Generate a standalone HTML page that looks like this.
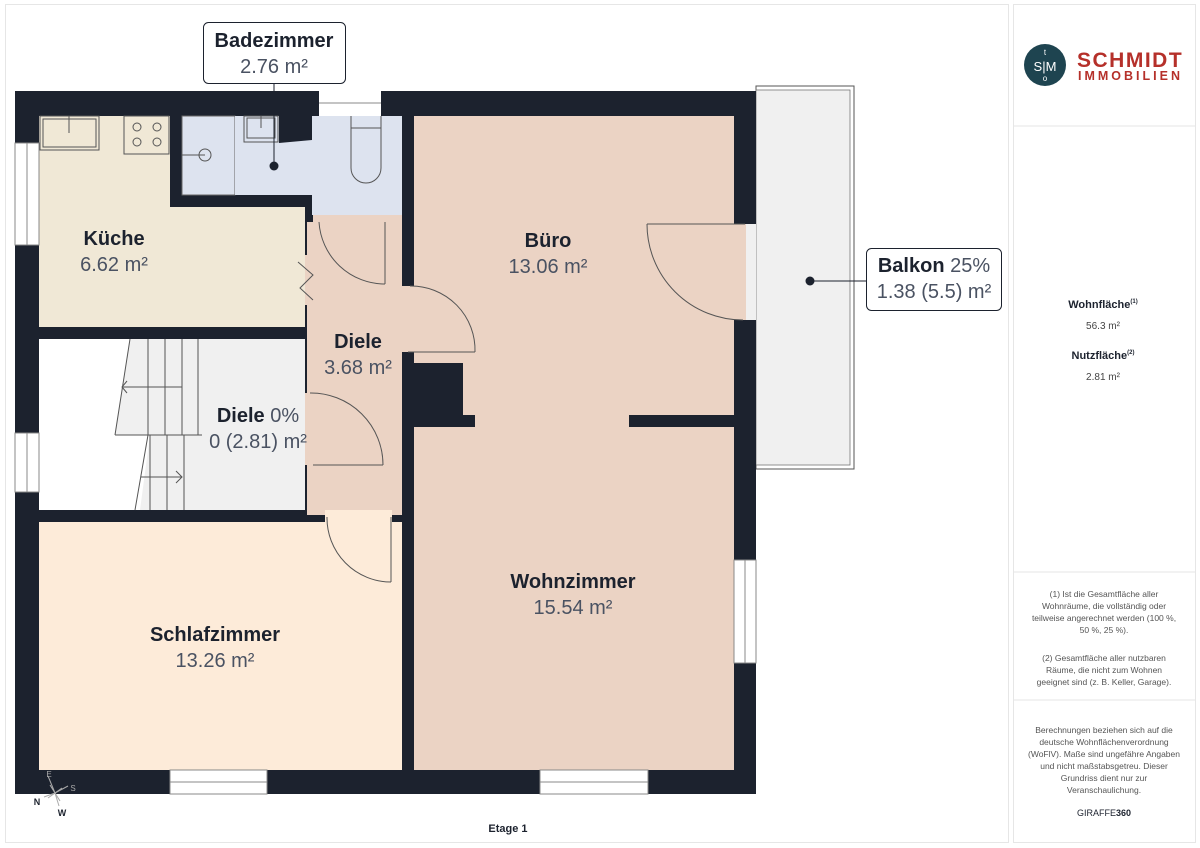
<!DOCTYPE html>
<html><head><meta charset="utf-8"><style>
body{margin:0;width:1200px;height:848px;background:#fff;overflow:hidden;font-family:"Liberation Sans",sans-serif}
svg{position:absolute;left:0;top:0}
</style></head><body>
<svg width="1200" height="848" viewBox="0 0 1200 848" xmlns="http://www.w3.org/2000/svg" font-family="Liberation Sans, sans-serif">
<rect x="5.5" y="4.5" width="1003" height="838" fill="none" stroke="#e6e6e6"/>
<rect x="1013.5" y="4.5" width="182" height="838" fill="none" stroke="#e6e6e6"/>
<line x1="1013" y1="126" x2="1196" y2="126" stroke="#e6e6e6"/>
<line x1="1013" y1="572" x2="1196" y2="572" stroke="#e6e6e6"/>
<line x1="1013" y1="700" x2="1196" y2="700" stroke="#e6e6e6"/>

<rect x="756" y="86" width="98" height="383" fill="#fff" stroke="#555" stroke-width="1"/>
<rect x="756" y="90" width="94" height="375" fill="#f0f0f0" stroke="#777" stroke-width="0.8"/>

<rect x="15" y="91" width="741" height="703" fill="#1c222e"/>

<path d="M39 116 H170 V207 H305 V327 H39 Z" fill="#f0e8d6"/>
<rect x="182" y="116" width="53" height="79" fill="#dde3ef" stroke="#666" stroke-width="1"/>
<path d="M235 116 H402 V215 H312 V195 H235 Z" fill="#dde3ef"/>
<path d="M279 116 H312 V140 L279 143 Z" fill="#1c222e"/>
<rect x="319" y="91" width="62" height="25" fill="#fff"/>
<line x1="319" y1="103" x2="381" y2="103" stroke="#888"/>
<rect x="307" y="222" width="95" height="293" fill="#ebd3c4"/>
<rect x="313" y="215" width="89" height="8" fill="#ebd3c4"/>
<rect x="39" y="339" width="266" height="171" fill="#f0f0f0"/>
<path d="M39 339 H130 L115 435 L150 435 L140 510 H39 Z" fill="#fff"/>
<rect x="414" y="116" width="320" height="654" fill="#ebd3c4"/>
<rect x="734" y="224" width="12" height="96" fill="#ebd3c4"/>
<rect x="746" y="224" width="10" height="96" fill="#f0f0f0"/>
<rect x="402" y="286" width="12" height="66" fill="#ebd3c4"/>
<rect x="414" y="363" width="49" height="64" fill="#1c222e"/>
<rect x="414" y="415" width="61" height="12" fill="#1c222e"/>
<rect x="629" y="415" width="105" height="12" fill="#1c222e"/>
<rect x="39" y="522" width="363" height="248" fill="#fdebd9"/>
<rect x="325" y="510" width="67" height="12" fill="#fdebd9"/>
<rect x="305" y="255" width="8" height="50" fill="#ebd3c4"/>
<rect x="305" y="393" width="8" height="72" fill="#ebd3c4"/>
<g fill="#fff" stroke="#888" stroke-width="1">
<rect x="15" y="143" width="24" height="102"/><line x1="27" y1="143" x2="27" y2="245"/>
<rect x="15" y="433" width="24" height="59"/><line x1="27" y1="433" x2="27" y2="492"/>
<rect x="170" y="770" width="97" height="24"/><line x1="170" y1="782" x2="267" y2="782"/>
<rect x="540" y="770" width="108" height="24"/><line x1="540" y1="782" x2="648" y2="782"/>
<rect x="734" y="560" width="22" height="103"/><line x1="745" y1="560" x2="745" y2="663"/>
</g>
<g fill="none" stroke="#555" stroke-width="1">
<rect x="40" y="116" width="59" height="34"/><rect x="43" y="119" width="53" height="28"/>
<line x1="69" y1="116" x2="69" y2="133"/>
<rect x="124" y="116" width="45" height="38"/>
<circle cx="137" cy="127" r="4"/><circle cx="157" cy="127" r="4"/>
<circle cx="137" cy="142" r="4"/><circle cx="157" cy="142" r="4"/>
<line x1="182" y1="155" x2="205" y2="155"/><circle cx="205" cy="155" r="6"/>
<rect x="244" y="116" width="34" height="26"/><rect x="247" y="118" width="28" height="20"/>
<line x1="261" y1="116" x2="261" y2="128"/>
<path d="M351 116 V168 A15 15 0 0 0 381 168 V116"/><line x1="351" y1="128" x2="381" y2="128"/>
<path d="M298 262 L313 275 L300 288 L313 300" />
<path d="M385 222 V284 M385 284 A66 66 0 0 1 319 222"/>
<path d="M408 352 H475 M475 352 A64 64 0 0 0 410 286"/>
<path d="M313 465 H383 M383 465 A72 72 0 0 0 310 393"/>
<path d="M391 517 V582 M391 582 A64 64 0 0 1 327 517"/>
<path d="M647 224 H745 M647 224 A96 96 0 0 0 743 320"/>
<path d="M130 339 L115 435 M115 435 H202 M148 435 L135 510"/>
<path d="M148 339 V435 M165 339 V435 M182 339 V435 M198 339 V435"/>
<path d="M150 435 V510 M167 435 V510 M184 435 V510"/>
<path d="M122 387 H182 M127 381 L122 387 L127 393"/>
<path d="M141 477 H182 M176 471 L182 477 L176 483"/>
</g>
<line x1="274" y1="83" x2="274" y2="166" stroke="#1c222e"/>
<circle cx="274" cy="166" r="4.5" fill="#1c222e"/>
<line x1="810" y1="281" x2="866" y2="281" stroke="#1c222e"/>
<circle cx="810" cy="281" r="4.5" fill="#1c222e"/>
<rect x="203.5" y="22.5" width="142" height="61" rx="5" fill="#fff" stroke="#1c222e"/>
<rect x="866.5" y="248.5" width="135" height="62" rx="5" fill="#fff" stroke="#1c222e"/>

<g text-anchor="middle" font-size="20">
<text x="274" y="47" font-weight="bold" fill="#1c222e">Badezimmer</text>
<text x="274" y="73" fill="#4a5262">2.76 m²</text>
<text x="934" y="272" fill="#1c222e"><tspan font-weight="bold">Balkon</tspan> <tspan fill="#4a5262">25%</tspan></text>
<text x="934" y="298" fill="#4a5262">1.38 (5.5) m²</text>
<text x="114" y="245" font-weight="bold" fill="#1c222e">Küche</text>
<text x="114" y="271" fill="#4a5262">6.62 m²</text>
<text x="548" y="247" font-weight="bold" fill="#1c222e">Büro</text>
<text x="548" y="273" fill="#4a5262">13.06 m²</text>
<text x="358" y="348" font-weight="bold" fill="#1c222e">Diele</text>
<text x="358" y="374" fill="#4a5262">3.68 m²</text>
<text x="258" y="422" fill="#1c222e"><tspan font-weight="bold">Diele</tspan> <tspan fill="#4a5262">0%</tspan></text>
<text x="258" y="448" fill="#4a5262">0 (2.81) m²</text>
<text x="573" y="588" font-weight="bold" fill="#1c222e">Wohnzimmer</text>
<text x="573" y="614" fill="#4a5262">15.54 m²</text>
<text x="215" y="641" font-weight="bold" fill="#1c222e">Schlafzimmer</text>
<text x="215" y="667" fill="#4a5262">13.26 m²</text>
<text x="508" y="832" font-size="11" font-weight="bold" fill="#1c222e">Etage 1</text>
</g>
<g stroke="#aaa" stroke-width="1">
<line x1="55" y1="793" x2="48" y2="776"/><line x1="55" y1="793" x2="68" y2="786"/>
<line x1="55" y1="793" x2="44" y2="797"/><line x1="55" y1="793" x2="59" y2="806"/>
<line x1="50" y1="785" x2="60" y2="801"/><line x1="48" y1="798" x2="62" y2="788"/>
</g>
<text x="49" y="777" font-size="8" fill="#aaa" text-anchor="middle">E</text>
<text x="73" y="791" font-size="8" fill="#aaa" text-anchor="middle">S</text>
<text x="37" y="805" font-size="9" font-weight="bold" fill="#1c222e" text-anchor="middle">N</text>
<text x="62" y="816" font-size="9" font-weight="bold" fill="#1c222e" text-anchor="middle">W</text>

<circle cx="1045" cy="65" r="21" fill="#1e4450"/>
<text x="1045" y="71" font-size="13" fill="#fff" text-anchor="middle">S|M</text>
<text x="1045" y="55" font-size="8" fill="#fff" text-anchor="middle">t</text>
<text x="1045" y="81" font-size="8" fill="#fff" text-anchor="middle">o</text>
<text x="1077" y="67" font-size="21" font-weight="bold" fill="#b5302a" letter-spacing="1.5">SCHMIDT</text>
<text x="1078" y="80" font-size="12.5" font-weight="bold" fill="#b5302a" letter-spacing="3">IMMOBILIEN</text>

<g text-anchor="middle" fill="#1c222e">
<text x="1103" y="308" font-size="11" font-weight="bold">Wohnfläche<tspan font-size="6" dy="-5">(1)</tspan></text>
<text x="1103" y="329" font-size="10" fill="#444">56.3 m²</text>
<text x="1103" y="359" font-size="11" font-weight="bold">Nutzfläche<tspan font-size="6" dy="-5">(2)</tspan></text>
<text x="1103" y="380" font-size="10" fill="#444">2.81 m²</text>
<g font-size="8.5" fill="#555">
<text x="1104" y="597">(1) Ist die Gesamtfläche aller</text>
<text x="1104" y="609">Wohnräume, die vollständig oder</text>
<text x="1104" y="621">teilweise angerechnet werden (100 %,</text>
<text x="1104" y="633">50 %, 25 %).</text>
<text x="1104" y="661">(2) Gesamtfläche aller nutzbaren</text>
<text x="1104" y="673">Räume, die nicht zum Wohnen</text>
<text x="1104" y="685">geeignet sind (z. B. Keller, Garage).</text>
<text x="1104" y="733">Berechnungen beziehen sich auf die</text>
<text x="1104" y="745">deutsche Wohnflächenverordnung</text>
<text x="1104" y="757">(WoFlV). Maße sind ungefähre Angaben</text>
<text x="1104" y="769">und nicht maßstabsgetreu. Dieser</text>
<text x="1104" y="781">Grundriss dient nur zur</text>
<text x="1104" y="793">Veranschaulichung.</text>
</g>
<text x="1104" y="816" font-size="9" fill="#1c222e">GIRAFFE<tspan font-weight="bold">360</tspan></text>
</g>
</svg>
</body></html>
